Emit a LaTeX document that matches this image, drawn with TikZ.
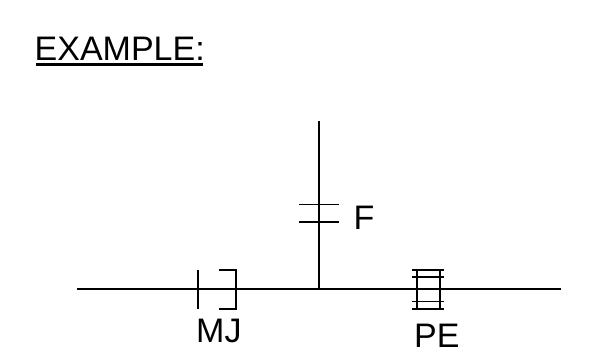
\documentclass[tikz,border=0pt]{standalone}
\usepackage{fontspec}
\setmainfont{Liberation Sans}
\begin{document}
\begin{tikzpicture}[x=1pt,y=-1pt,
  wire/.style={draw=black,line width=1.4pt},
  mark line/.style={draw=black,line width=1.4pt},
  label text/.style={font=\fontsize{34}{38}\selectfont,inner sep=0pt,text=black,anchor=base west}]
\useasboundingbox (0,0) rectangle (589,359);
\fill[white] (0,0) rectangle (589,359);
% title
\node[label text] (title) at (34.5,60.5) {EXAMPLE:};
\fill[black] (36,63) rectangle (203,66);
% wires
\coordinate (wl) at (77,289);
\coordinate (wr) at (561,289);
\coordinate (wt) at (319,121);
\coordinate (tee) at (319,289);
\draw[wire] (wl) -- (wr);
\draw[wire] (wt) -- (tee);
% F
\draw[mark line] (299,204.5) -- (339,204.5);
\draw[mark line] (299,222) -- (339,222);
\node[label text] (F) at (353.5,229.5) {F};
% MJ
\draw[mark line] (198,270) -- (198,309);
\draw[mark line] (219,270) -- (236,270) -- (236,309) -- (219,309);
\node[label text] (MJ) at (196,342) {MJ};
% PE
\draw[mark line] (417,270) -- (417,309);
\draw[mark line] (440,270) -- (440,309);
\foreach \yy in {270,277,301.5,309}
  \draw[mark line] (412,\yy) -- (444,\yy);
\node[label text] (PE) at (414,347) {PE};
\end{tikzpicture}
\end{document}
